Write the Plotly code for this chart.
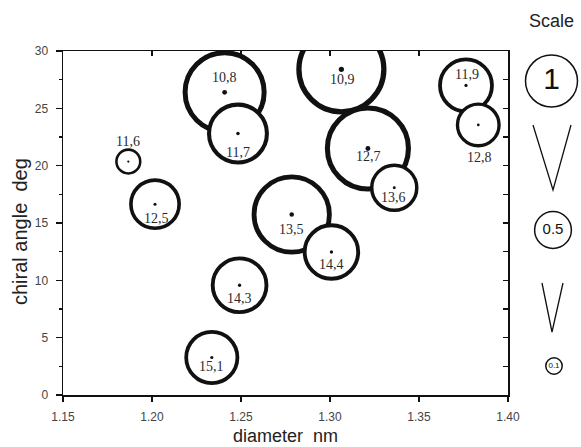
import numpy as np
import plotly.graph_objects as go

# ---------------- data ----------------
chirality = ["10,9", "12,7", "10,8", "13,5", "11,7", "14,3", "14,4",
             "11,9", "15,1", "12,5", "13,6", "12,8", "11,6"]
diameter_nm = [1.3064, 1.3213, 1.2408, 1.2785, 1.2483, 1.2492, 1.3008,
               1.3764, 1.2336, 1.2017, 1.3361, 1.3833, 1.1867]
chiral_angle_deg = [28.4, 21.5, 26.4, 15.74, 22.8, 9.57, 12.47,
                    27.0, 3.27, 16.64, 18.07, 23.55, 20.36]
intensity = [2.67, 2.43, 2.31, 2.10, 1.24, 1.07, 1.06,
             1.00, 0.97, 0.86, 0.75, 0.64, 0.21]

scale_values = [1.0, 0.5, 0.1]
scale_labels = ["1", "0.5", "0.1"]

x_tick_vals = [1.15, 1.20, 1.25, 1.30, 1.35, 1.40]
x_tick_text = ["1.15", "1.20", "1.25", "1.30", "1.35", "1.40"]
y_tick_vals = [0, 5, 10, 15, 20, 25, 30]
y_tick_text = ["0", "5", "10", "15", "20", "25", "30"]

# ---------------- layout / style ----------------
W, H = 581, 447
ML, MR, MT, MB = 63, 0, 0, 52
PLOT_RIGHT_PX, PLOT_TOP_PX = 508, 51
area_w = W - ML - MR
area_h = H - MT - MB
x_dom_end = (PLOT_RIGHT_PX - ML) / area_w
y_dom_end = (area_h - (PLOT_TOP_PX - MT)) / area_h

UNIT_DIAM = 52.0  # marker diameter (px) for intensity 1
INK = "#111111"

def diam(v):
    return UNIT_DIAM * np.sqrt(np.asarray(v, dtype=float))

def ring_width(v):
    return 1.5 + 2.3 * np.sqrt(np.asarray(v, dtype=float))

def dot_size(v):
    return 2.0 + 1.2 * np.asarray(v, dtype=float)

# label offsets in screen px (dx right, dy down) per chirality
label_offset = {
    "10,9": (1, 10.5), "12,7": (1, 8.5), "10,8": (0, -14.6),
    "13,5": (0, 14.5), "11,7": (0, 18.7), "14,3": (0, 13.3),
    "14,4": (0, 12.5), "11,9": (1, -10.5), "15,1": (0, 9.0),
    "12,5": (1.5, 14.3), "13,6": (-1, 10.0), "12,8": (1, 33.0),
    "11,6": (0, -20.0),
}

fig = go.Figure()

# bubbles (white filled rings, drawn largest first)
fig.add_trace(go.Scatter(
    x=diameter_nm, y=chiral_angle_deg, mode="markers",
    marker=dict(size=diam(intensity), color="white", opacity=1,
                line=dict(color=INK, width=ring_width(intensity))),
    cliponaxis=True, showlegend=False, hoverinfo="skip",
))
# centre dots
fig.add_trace(go.Scatter(
    x=diameter_nm, y=chiral_angle_deg, mode="markers",
    marker=dict(size=dot_size(intensity), color=INK, opacity=1, line=dict(width=0)),
    showlegend=False, hoverinfo="skip",
))
# dummy trace for mirrored (inside) ticks on top/right
fig.add_trace(go.Scatter(x=[None], y=[None], xaxis="x2", yaxis="y2",
                         showlegend=False, hoverinfo="skip"))

# scale key (own pixel-like axes in right margin)
key_x = [551.5, 553, 554]
key_y = [81, 230, 366]
fig.add_trace(go.Scatter(
    x=key_x, y=key_y, xaxis="x3", yaxis="y3", mode="markers+text",
    text=scale_labels, textposition="middle center",
    textfont=dict(family="Liberation Sans, Arial", size=[30, 15, 8], color=INK),
    marker=dict(size=diam(scale_values), color="white", opacity=1,
                line=dict(color=INK, width=1.5)),
    cliponaxis=False, showlegend=False, hoverinfo="skip",
))

annotations = []
for lab, xv, yv in zip(chirality, diameter_nm, chiral_angle_deg):
    dx, dy = label_offset[lab]
    annotations.append(dict(
        x=xv, y=yv, xref="x", yref="y", text=lab, showarrow=False,
        xshift=dx, yshift=-dy,
        font=dict(family="Liberation Serif, Times New Roman", size=14, color="#2a2a2a"),
    ))

# axis titles
annotations.append(dict(
    x=((ML + PLOT_RIGHT_PX) / 2 - ML) / area_w, y=(area_h - (436 - MT)) / area_h,
    xref="paper", yref="paper", text="diameter\u00a0\u00a0nm", showarrow=False,
    xanchor="center", yanchor="middle",
    font=dict(family="Liberation Sans, Arial", size=18, color="#222"),
))
annotations.append(dict(
    x=(20 - ML) / area_w, y=(area_h - (232 - MT)) / area_h,
    xref="paper", yref="paper", text="chiral angle\u00a0\u00a0deg", showarrow=False,
    textangle=-90, xanchor="center", yanchor="middle",
    font=dict(family="Liberation Sans, Arial", size=20, color="#222"),
))
annotations.append(dict(
    x=551, y=21, xref="x3", yref="y3", text="Scale", showarrow=False,
    xanchor="center", yanchor="middle",
    font=dict(family="Liberation Sans, Arial", size=18, color="#222"),
))

shapes = [
    dict(type="path", xref="x3", yref="y3", path="M 533 125 L 553 190 L 571 125",
         line=dict(color=INK, width=1.3)),
    dict(type="path", xref="x3", yref="y3", path="M 542 283 L 552 332 L 563 283",
         line=dict(color=INK, width=1.3)),
]

tick_font = dict(family="Liberation Sans, Arial", size=12, color="#444")

fig.update_layout(
    template="none",
    width=W, height=H, autosize=False,
    margin=dict(l=ML, r=MR, t=MT, b=MB, pad=0, autoexpand=False),
    paper_bgcolor="white", plot_bgcolor="white",
    showlegend=False, hovermode=False,
    annotations=annotations, shapes=shapes,
    xaxis=dict(domain=[0, x_dom_end], range=[1.15, 1.40], tickvals=x_tick_vals,
               ticktext=x_tick_text, ticks="outside", ticklen=5, tickwidth=1.3,
               tickcolor=INK, showline=True, linecolor=INK, linewidth=1.5,
               mirror=True, showgrid=False, zeroline=False, tickfont=tick_font,
               ticklabelstandoff=5, automargin=False),
    yaxis=dict(domain=[0, y_dom_end], range=[0, 30], tickvals=y_tick_vals,
               ticktext=y_tick_text, ticks="outside", ticklen=6, tickwidth=1.3,
               tickcolor=INK, showline=True, linecolor=INK, linewidth=1.5,
               mirror=True, showgrid=False, zeroline=False, tickfont=tick_font,
               ticklabelstandoff=5, automargin=False,
               minor=dict(ticks="outside", ticklen=3, dtick=2.5, tick0=0,
                          tickcolor=INK, tickwidth=1.2, showgrid=False)),
    xaxis2=dict(overlaying="x", anchor="y", side="top", range=[1.15, 1.40],
                tickvals=x_tick_vals, ticks="inside", ticklen=5, tickwidth=1.3,
                tickcolor=INK, showticklabels=False, showline=False,
                showgrid=False, zeroline=False, automargin=False),
    yaxis2=dict(overlaying="y", anchor="x", side="right", range=[0, 30],
                dtick=2.5, tick0=0, ticks="inside", ticklen=5, tickwidth=1.3,
                tickcolor=INK, showticklabels=False, showline=False,
                showgrid=False, zeroline=False, automargin=False),
    xaxis3=dict(domain=[x_dom_end, 1], range=[PLOT_RIGHT_PX, W], visible=False,
                anchor="y3", automargin=False),
    yaxis3=dict(domain=[0, 1], range=[area_h + MT, 0], visible=False, anchor="x3",
                automargin=False),
)

fig.write_html(
    "out.html",
    config={"displayModeBar": False, "staticPlot": True},
    post_script="document.body.style.margin='0px';document.body.style.overflow='hidden';",
)
